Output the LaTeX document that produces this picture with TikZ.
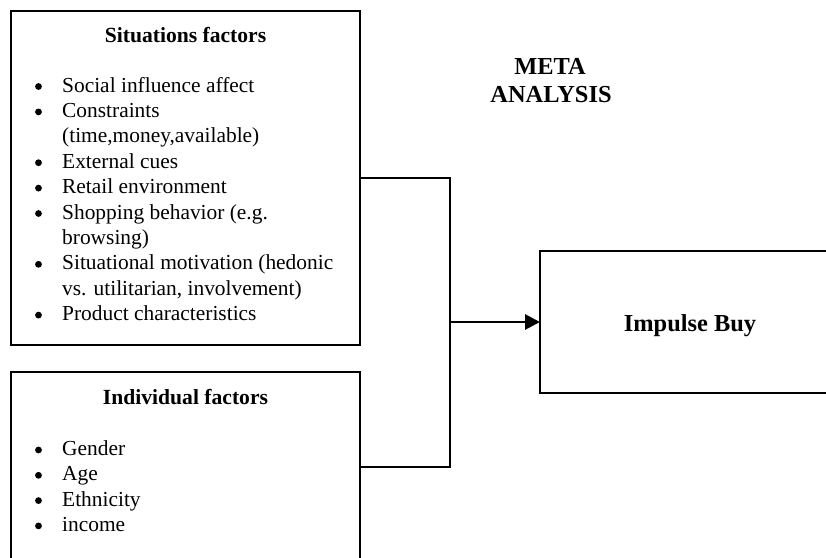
\documentclass[tikz,border=0pt]{standalone}
\usepackage{fontspec}
\setmainfont{Liberation Serif}
\usetikzlibrary{arrows.meta}
\begin{document}
\begin{tikzpicture}[x=1pt,y=-1pt,
  box/.style={draw, line width=2.9pt, inner sep=0pt, outer sep=0pt, anchor=north west},
  wire/.style={line width=2.9pt},
  txt/.style={font=\fontsize{21.4}{25.4}\selectfont, inner sep=0pt, anchor=base west},
  hd/.style={font=\fontsize{21.6}{25.4}\selectfont\bfseries, inner sep=0pt, anchor=base},
  big/.style={font=\fontsize{24.4}{28}\selectfont\bfseries, inner sep=0pt, anchor=base},
  bul/.style={circle, fill, inner sep=0pt, minimum size=6.8pt}]
\clip (0,0) rectangle (826,557);
\fill[white] (0,0) rectangle (826,557);

% boxes
\node[box, minimum width=349pt, minimum height=334pt] (sit) at (11,11) {};
\node[box, minimum width=349pt, minimum height=190pt] (ind) at (11,372) {};
\node[box, minimum width=300pt, minimum height=142pt] (imp) at (540,251) {};

% headings
\node[hd] (sith) at (185.5,42) {Situations factors};
\node[hd] (indh) at (185.5,404) {Individual factors};
\node[big] (meta1) at (550,74) {META};
\node[big] (meta2) at (551,102) {ANALYSIS};
\node[big] (imph) at (690,331) {Impulse Buy};

% situational items
\node[bul] (b1) at (38.5,86.5) {};
\node[txt] (t1) at (62,92) {Social influence affect};
\node[bul] (b2) at (38.5,111.9) {};
\node[txt] (t2) at (62,117.4) {Constraints};
\node[txt] (t2b) at (62,142.8) {(time,money,available)};
\node[bul] (b3) at (38.5,162.7) {};
\node[txt] (t3) at (62,168.2) {External cues};
\node[bul] (b4) at (38.5,188.1) {};
\node[txt] (t4) at (62,193.6) {Retail environment};
\node[bul] (b5) at (38.5,213.5) {};
\node[txt] (t5) at (62,219) {Shopping behavior (e.g.};
\node[txt] (t5b) at (62,244.4) {browsing)};
\node[bul] (b6) at (38.5,264.3) {};
\node[txt] (t6) at (62,269.8) {Situational motivation (hedonic};
\node[txt] (t6b) at (62,295.2) {vs. utilitarian, involvement)};
\node[bul] (b7) at (38.5,315.1) {};
\node[txt] (t7) at (62,320.6) {Product characteristics};

% individual items
\node[bul] (c1) at (38.5,450) {};
\node[txt] (u1) at (62,455.5) {Gender};
\node[bul] (c2) at (38.5,475.3) {};
\node[txt] (u2) at (62,480.8) {Age};
\node[bul] (c3) at (38.5,500.6) {};
\node[txt] (u3) at (62,506.1) {Ethnicity};
\node[bul] (c4) at (38.5,525.9) {};
\node[txt] (u4) at (62,531.4) {income};

% connectors
\coordinate (joint) at (450,322);
\draw[wire] (sit.east) -| (joint);
\draw[wire] (ind.east) -| (joint);
\draw[wire, -{Triangle[length=15pt,width=15pt]}] (joint) -- (imp.west);
\end{tikzpicture}
\end{document}
